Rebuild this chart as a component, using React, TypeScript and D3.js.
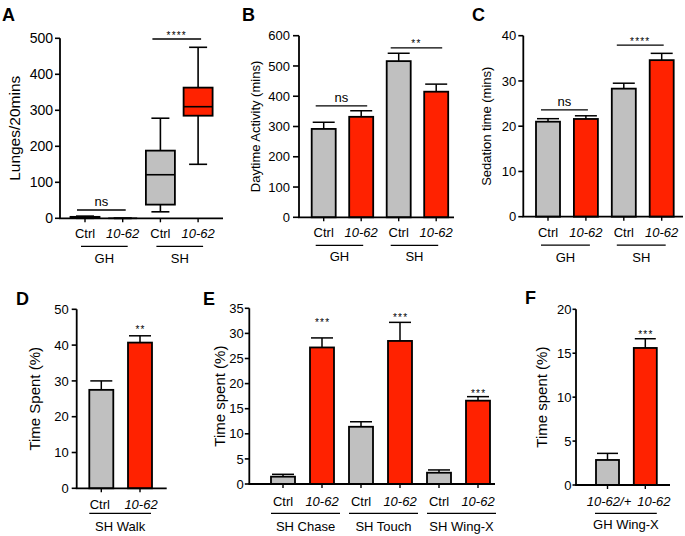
import React from 'react';
import * as d3 from 'd3';

const GRAY = '#c0c0c0';
const RED = '#ff2200';
const FONT = '"Liberation Sans", Arial, Helvetica, sans-serif';

// ---------- Panel A (box plot) ----------
const aCategories = ['Ctrl', '10-62', 'Ctrl', '10-62'];
const aGroups = ['GH', 'SH'];
const aMin = [0, 0, 18, 150];
const aQ1 = [1, 0, 38, 285];
const aMedian = [2, 0, 121, 310];
const aQ3 = [4, 0, 188, 363];
const aMax = [6, 0, 278, 475];
const aTicks = [0, 100, 200, 300, 400, 500];
const aSig = ['ns', '****'];
const aSigLevel = [23, 498];

// ---------- Panel B ----------
const bCategories = ['Ctrl', '10-62', 'Ctrl', '10-62'];
const bGroups = ['GH', 'SH'];
const bMeans = [292, 332, 516, 415];
const bErrs = [22, 20, 26, 25];
const bTicks = [0, 100, 200, 300, 400, 500, 600];
const bSig = ['ns', '**'];
const bSigLevel = [368, 560];

// ---------- Panel C ----------
const cCategories = ['Ctrl', '10-62', 'Ctrl', '10-62'];
const cGroups = ['GH', 'SH'];
const cMeans = [21.0, 21.6, 28.3, 34.6];
const cErrs = [0.66, 0.7, 1.2, 1.5];
const cTicks = [0, 10, 20, 30, 40];
const cSig = ['ns', '****'];
const cSigLevel = [23.6, 37.9];

// ---------- Panel D ----------
const dCategories = ['Ctrl', '10-62'];
const dGroups = ['SH Walk'];
const dMeans = [27.5, 40.7];
const dErrs = [2.5, 1.9];
const dTicks = [0, 10, 20, 30, 40, 50];
const dStars = ['', '**'];
const dStarLevel = [0, 44.9];

// ---------- Panel E ----------
const eCategories = ['Ctrl', '10-62', 'Ctrl', '10-62', 'Ctrl', '10-62'];
const eGroups = ['SH Chase', 'SH Touch', 'SH Wing-X'];
const eMeans = [1.46, 27.2, 11.4, 28.5, 2.25, 16.6];
const eErrs = [0.47, 1.9, 1.0, 3.7, 0.55, 0.8];
const eTicks = [0, 5, 10, 15, 20, 25, 30, 35];
const eStars = ['', '***', '', '***', '', '***'];
const eStarLevel = [0, 32.7, 0, 33.7, 0, 18.4];

// ---------- Panel F ----------
const fCategories = ['10-62/+', '10-62'];
const fGroups = ['GH Wing-X'];
const fMeans = [2.85, 15.6];
const fErrs = [0.75, 1.05];
const fTicks = [0, 5, 10, 15, 20];
const fStars = ['', '***'];
const fStarLevel = [0, 17.4];

const isItalic = (s: string) => /^[0-9]/.test(s);
const colorOf = (i: number) => (i % 2 === 0 ? GRAY : RED);

type Layout = {
  letter: string; letterX: number; letterY: number;
  axisX: number; axisEnd: number; y0: number; yTop: number;
  c0: number; step: number; barW: number;
  tickLen: number; labelGap: number; tickSize: number;
  title: string; titleX: number; titleSize: number;
  catDy: number; lineDy: number; groupDy: number;
  grpPadL: number; grpPadR: number;
  sigPadL?: number; sigPadR?: number;
  catShift?: number[];
};

function Frame({ L, ticks, domainMax, categories, groups, children }: any) {
  const y = d3.scaleLinear().domain([0, domainMax]).range([L.y0, L.yTop]);
  const x = d3.scalePoint<number>().domain(d3.range(categories.length)).range([L.c0, L.c0 + L.step * (categories.length - 1)]);
  const per = categories.length / groups.length;
  return (
    <g>
      <text x={L.letterX} y={L.letterY} fontSize={18} fontWeight="bold" fontFamily={FONT}>{L.letter}</text>
      <text transform={`translate(${L.titleX},${(L.y0 + L.yTop) / 2}) rotate(-90)`} textAnchor="middle" fontSize={L.titleSize} fontFamily={FONT}>{L.title}</text>
      {children(x, y)}
      {/* y axis */}
      <line x1={L.axisX} x2={L.axisX} y1={L.y0} y2={L.yTop} stroke="#000" strokeWidth={1.8} />
      {ticks.map((t: number) => (
        <g key={t}>
          <line x1={L.axisX - L.tickLen} x2={L.axisX} y1={y(t)} y2={y(t)} stroke="#000" strokeWidth={1.6} />
          <text x={L.axisX - L.tickLen - L.labelGap} y={y(t)} dy="0.36em" textAnchor="end" fontSize={L.tickSize} fontFamily={FONT}>{t}</text>
        </g>
      ))}
      {/* x axis */}
      <line x1={L.axisX - 0.9} x2={L.axisEnd} y1={L.y0} y2={L.y0} stroke="#000" strokeWidth={1.8} />
      {categories.map((c: string, i: number) => (
        <g key={i}>
          <line x1={x(i)} x2={x(i)} y1={L.y0} y2={L.y0 + 4} stroke="#000" strokeWidth={1.4} />
          <text x={x(i)! + (L.catShift ? L.catShift[i] : 0)} y={L.y0 + L.catDy} dy="0.36em" textAnchor="middle" fontSize={13} fontFamily={FONT} fontStyle={isItalic(c) ? 'italic' : 'normal'}>{c}</text>
        </g>
      ))}
      {groups.map((g: string, gi: number) => {
        const a = x(gi * per)!, b = x(gi * per + per - 1)!;
        return (
          <g key={gi}>
            <line x1={a - L.grpPadL} x2={b + L.grpPadR} y1={L.y0 + L.lineDy} y2={L.y0 + L.lineDy} stroke="#000" strokeWidth={1.2} />
            <text x={(a - L.grpPadL + b + L.grpPadR) / 2} y={L.y0 + L.groupDy} dy="0.36em" textAnchor="middle" fontSize={13} fontFamily={FONT}>{g}</text>
          </g>
        );
      })}
    </g>
  );
}

function Bars({ x, y, means, errs, barW }: any) {
  return (
    <g>
      {means.map((m: number, i: number) => {
        const cx = x(i);
        const top = y(m + errs[i]);
        return (
          <g key={i}>
            <line x1={cx} x2={cx} y1={y(m)} y2={top} stroke="#000" strokeWidth={1.5} />
            <line x1={cx - barW / 2 + 1} x2={cx + barW / 2 - 1} y1={top} y2={top} stroke="#000" strokeWidth={1.5} />
            <rect x={cx - barW / 2} y={y(m)} width={barW} height={y(0) - y(m)} fill={colorOf(i)} stroke="#000" strokeWidth={1.8} />
          </g>
        );
      })}
    </g>
  );
}

function PairSig({ x, y, labels, levels, padL, padR }: any) {
  return (
    <g>
      {labels.map((s: string, gi: number) => {
        const a = x(gi * 2) - padL, b = x(gi * 2 + 1) + padR;
        const yy = y(levels[gi]);
        const stars = s.startsWith('*');
        return (
          <g key={gi}>
            <line x1={a} x2={b} y1={yy} y2={yy} stroke="#000" strokeWidth={1.3} />
            <text x={(a + b) / 2} y={stars ? yy - 0.5 : yy - 4} textAnchor="middle" fontSize={stars ? 10 : 13} letterSpacing={stars ? 1.2 : 0} fontFamily={FONT}>{s}</text>
          </g>
        );
      })}
    </g>
  );
}

function Stars({ x, y, stars, levels }: any) {
  return (
    <g>
      {stars.map((s: string, i: number) => s ? (
        <text key={i} x={x(i) + 0.6} y={y(levels[i]) + 5.7} textAnchor="middle" fontSize={10} letterSpacing={1.2} fontFamily={FONT}>{s}</text>
      ) : null)}
    </g>
  );
}

const LA: Layout = { letter: 'A', letterX: 2, letterY: 20.5, axisX: 60, axisEnd: 223, y0: 218.3, yTop: 38.3, c0: 85, step: 37.7, barW: 29, tickLen: 5, labelGap: 2, tickSize: 14, title: 'Lunges/20mins', titleX: 19.5, titleSize: 15.5, catDy: 15, lineDy: 28, groupDy: 40.5, grpPadL: 4, grpPadR: 5, sigPadL: 8, sigPadR: 3 };
const LB: Layout = { letter: 'B', letterX: 242, letterY: 20.5, axisX: 299, axisEnd: 454, y0: 217.3, yTop: 35.7, c0: 323.7, step: 37.5, barW: 24, tickLen: 6, labelGap: 3, tickSize: 13, title: 'Daytime Activity (mins)', titleX: 260, titleSize: 13, catDy: 15, lineDy: 28, groupDy: 39.5, grpPadL: 8, grpPadR: 2, sigPadL: 8, sigPadR: 6 };
const LC: Layout = { letter: 'C', letterX: 472, letterY: 20.5, axisX: 523.3, axisEnd: 683, y0: 216.7, yTop: 35.7, c0: 548, step: 37.9, barW: 24, tickLen: 5, labelGap: 2, tickSize: 13, title: 'Sedation time (mins)', titleX: 490.5, titleSize: 13, catDy: 15.5, lineDy: 28.5, groupDy: 40.5, grpPadL: 7, grpPadR: 4, sigPadL: 7, sigPadR: 2 };
const LD: Layout = { letter: 'D', letterX: 16, letterY: 305, axisX: 76.7, axisEnd: 166.7, y0: 488.3, yTop: 309.3, c0: 101.3, step: 38.7, barW: 24, tickLen: 5, labelGap: 3, tickSize: 13, title: 'Time Spent (%)', titleX: 40, titleSize: 15, catDy: 16, lineDy: 25, groupDy: 38, grpPadL: 12, grpPadR: 11, catShift: [-1.5, 1] };
const LE: Layout = { letter: 'E', letterX: 203, letterY: 305, axisX: 249.3, axisEnd: 495, y0: 484, yTop: 308.3, c0: 283, step: 39, barW: 24, tickLen: 4.5, labelGap: 1, tickSize: 13, title: 'Time spent (%)', titleX: 224.5, titleSize: 15, catDy: 17.7, lineDy: 29.3, groupDy: 42.7, grpPadL: 12, grpPadR: 18 };
const LF: Layout = { letter: 'F', letterX: 525, letterY: 304, axisX: 576, axisEnd: 670, y0: 485, yTop: 309.3, c0: 607.5, step: 37.8, barW: 23, tickLen: 3.5, labelGap: 1, tickSize: 13, title: 'Time spent (%)', titleX: 547, titleSize: 15, catDy: 16.7, lineDy: 28.3, groupDy: 39.5, grpPadL: 12.5, grpPadR: 11.5, catShift: [1.5, 8.5] };

export default function App() {
  return (
    <svg width={685} height={536} viewBox="0 0 685 536" style={{ position: 'absolute', left: 0, top: 0, display: 'block', background: '#fff' }}>
      <rect x={0} y={0} width={685} height={536} fill="#fff" />
      {/* A */}
      <Frame L={LA} ticks={aTicks} domainMax={500} categories={aCategories} groups={aGroups}>
        {(x: any, y: any) => (
          <g>
            {aCategories.map((_, i) => {
              const cx = x(i);
              const w = LA.barW, cap = 18;
              return (
                <g key={i}>
                  <line x1={cx} x2={cx} y1={y(aMin[i])} y2={y(aQ1[i])} stroke="#000" strokeWidth={1.6} />
                  <line x1={cx} x2={cx} y1={y(aQ3[i])} y2={y(aMax[i])} stroke="#000" strokeWidth={1.6} />
                  <line x1={cx - cap / 2} x2={cx + cap / 2} y1={y(aMin[i])} y2={y(aMin[i])} stroke="#000" strokeWidth={1.6} />
                  <line x1={cx - cap / 2} x2={cx + cap / 2} y1={y(aMax[i])} y2={y(aMax[i])} stroke="#000" strokeWidth={1.6} />
                  <rect x={cx - w / 2} y={y(aQ3[i])} width={w} height={Math.max(0, y(aQ1[i]) - y(aQ3[i]))} fill={colorOf(i)} stroke="#000" strokeWidth={1.8} />
                  <line x1={cx - w / 2} x2={cx + w / 2} y1={y(aMedian[i])} y2={y(aMedian[i])} stroke="#000" strokeWidth={1.6} />
                </g>
              );
            })}
            <PairSig x={x} y={y} labels={aSig} levels={aSigLevel} padL={LA.sigPadL} padR={LA.sigPadR} />
          </g>
        )}
      </Frame>
      {/* B */}
      <Frame L={LB} ticks={bTicks} domainMax={600} categories={bCategories} groups={bGroups}>
        {(x: any, y: any) => (
          <g>
            <Bars x={x} y={y} means={bMeans} errs={bErrs} barW={LB.barW} />
            <PairSig x={x} y={y} labels={bSig} levels={bSigLevel} padL={LB.sigPadL} padR={LB.sigPadR} />
          </g>
        )}
      </Frame>
      {/* C */}
      <Frame L={LC} ticks={cTicks} domainMax={40} categories={cCategories} groups={cGroups}>
        {(x: any, y: any) => (
          <g>
            <Bars x={x} y={y} means={cMeans} errs={cErrs} barW={LC.barW} />
            <PairSig x={x} y={y} labels={cSig} levels={cSigLevel} padL={LC.sigPadL} padR={LC.sigPadR} />
          </g>
        )}
      </Frame>
      {/* D */}
      <Frame L={LD} ticks={dTicks} domainMax={50} categories={dCategories} groups={dGroups}>
        {(x: any, y: any) => (
          <g>
            <Bars x={x} y={y} means={dMeans} errs={dErrs} barW={LD.barW} />
            <Stars x={x} y={y} stars={dStars} levels={dStarLevel} />
          </g>
        )}
      </Frame>
      {/* E */}
      <Frame L={LE} ticks={eTicks} domainMax={35} categories={eCategories} groups={eGroups}>
        {(x: any, y: any) => (
          <g>
            <Bars x={x} y={y} means={eMeans} errs={eErrs} barW={LE.barW} />
            <Stars x={x} y={y} stars={eStars} levels={eStarLevel} />
          </g>
        )}
      </Frame>
      {/* F */}
      <Frame L={LF} ticks={fTicks} domainMax={20} categories={fCategories} groups={fGroups}>
        {(x: any, y: any) => (
          <g>
            <Bars x={x} y={y} means={fMeans} errs={fErrs} barW={LF.barW} />
            <Stars x={x} y={y} stars={fStars} levels={fStarLevel} />
          </g>
        )}
      </Frame>
    </svg>
  );
}
